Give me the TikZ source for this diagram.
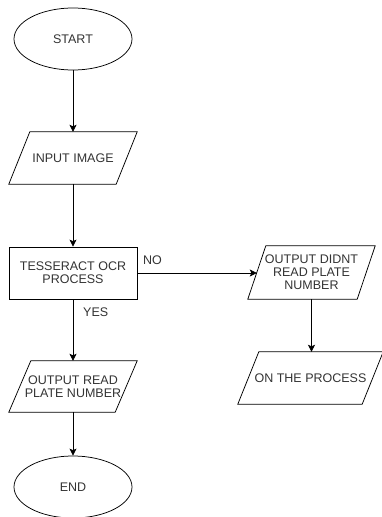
\documentclass[tikz,border=0pt]{standalone}
\usepackage{fontspec}
\setmainfont{Liberation Sans}
\usetikzlibrary{shapes.geometric,arrows.meta}
\definecolor{txt}{HTML}{333333}
\tikzset{
  every node/.style={font=\fontsize{12.5}{13}\selectfont, text=txt, align=center, inner sep=0pt},
  term/.style={ellipse, draw, line width=0.75pt, minimum width=118pt, minimum height=62pt},
  procbox/.style={rectangle, draw, line width=0.75pt, minimum width=128pt, minimum height=52pt},
  iobox/.style={rectangle, minimum height=52pt},
  flow/.style={line width=0.75pt, -{Stealth[length=7pt,width=7pt,inset=1.5pt]}},
  lbl/.style={anchor=west}
}
\newcommand{\para}[2]{\draw[line width=0.75pt] ([xshift=#2/2]#1.north west) -- ([xshift=#2/2]#1.north east) -- ([xshift=-#2/2]#1.south east) -- ([xshift=-#2/2]#1.south west) -- cycle;}
\begin{document}
\begin{tikzpicture}[x=1pt,y=-1pt]
\useasboundingbox (0,0) rectangle (382,517);
\node[term] (start) at (73,39) {START};
\node[iobox, minimum width=107pt] (input) at (73,158) {INPUT IMAGE};
\para{input}{21pt}
\node[procbox] (tess) at (73,273) {TESSERACT OCR\\PROCESS};
\node[iobox, minimum width=106pt, minimum height=51pt] (outread) at (73,386.5) {OUTPUT READ\\PLATE NUMBER};
\para{outread}{22pt}
\node[term] (end) at (73,487) {END};
\node[iobox, minimum width=109pt, minimum height=53pt] (outdidnt) at (311.5,272.5) {OUTPUT DIDNT\\READ PLATE\\NUMBER};
\para{outdidnt}{18pt}
\node[iobox, minimum width=124pt] (onproc) at (310.5,378) {ON THE PROCESS};
\para{onproc}{21pt}
\draw[flow] (start) -- (input);
\draw[flow] (input) -- (tess);
\draw[flow] (tess) -- (outread);
\draw[flow] (outread) -- (end);
\draw[flow] (tess.east) -- (tess.east -| outdidnt.west);
\draw[flow] (outdidnt.south) -- (outdidnt.south |- onproc.north);
\node[lbl] (no) at (143,260) {NO};
\node[lbl] (yes) at (83,312) {YES};
\end{tikzpicture}
\end{document}
